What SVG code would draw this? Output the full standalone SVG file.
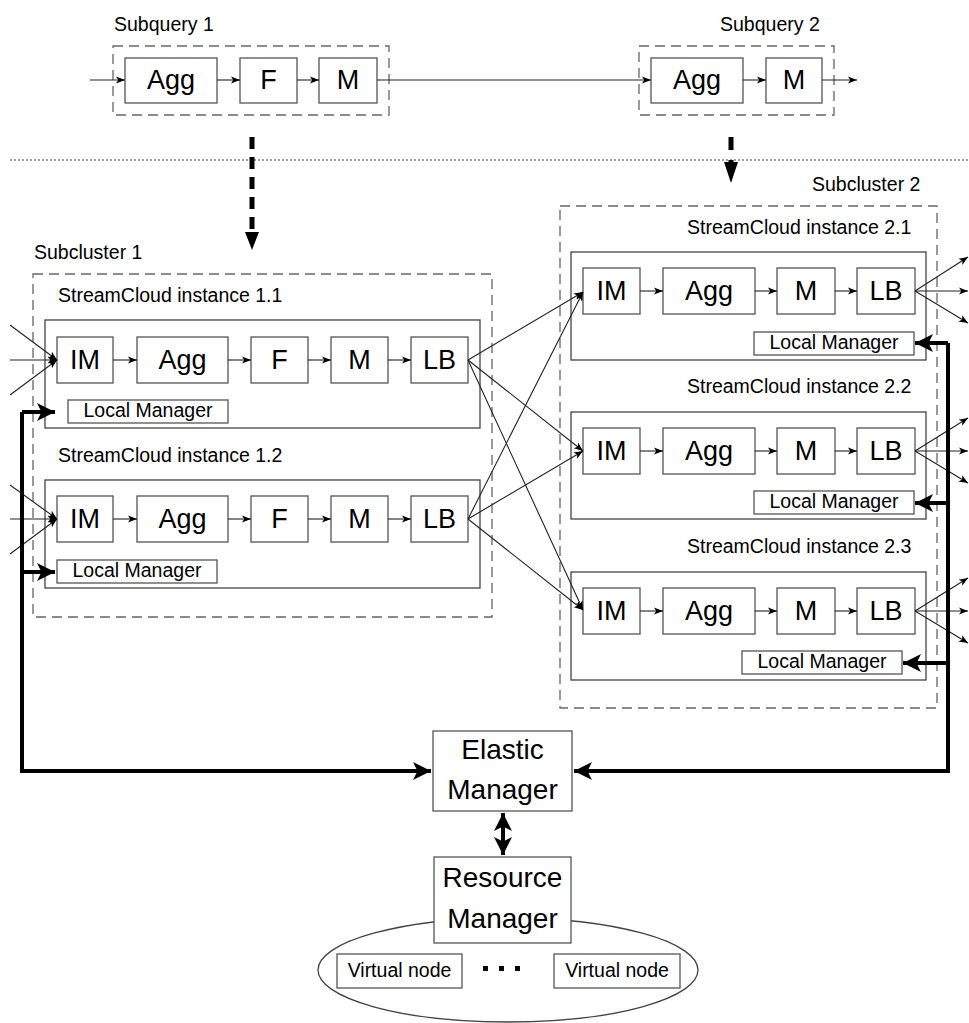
<svg xmlns="http://www.w3.org/2000/svg" width="969" height="1023" viewBox="0 0 969 1023">
<style>
text{font-family:"Liberation Sans",Arial,sans-serif;fill:#000}
.op{font-size:27px;text-anchor:middle}
.lbl{font-size:19.5px}
.lm{font-size:19.5px;text-anchor:middle}
.big{font-size:28px;text-anchor:middle}
.box{fill:#fff;stroke:#555;stroke-width:1.3}
.inst{fill:none;stroke:#444;stroke-width:1.3}
.dash{fill:none;stroke:#666;stroke-width:1.3;stroke-dasharray:10 6}
.thin{fill:none;stroke:#222;stroke-width:1.1;marker-end:url(#ah)}
.thick{fill:none;stroke:#000;stroke-width:4}
</style>
<defs>
<marker id="ah" viewBox="0 0 10 10" refX="10" refY="5" markerWidth="9" markerHeight="9" markerUnits="userSpaceOnUse" orient="auto">
<path d="M0,1 L10,5 L0,9 L2.5,5 Z" fill="#000"/>
</marker>
<marker id="ahb" viewBox="0 0 10 10" refX="10" refY="5" markerWidth="4.5" markerHeight="4.5" orient="auto">
<path d="M0,0 L10,5 L0,10 L2.5,5 Z" fill="#000"/>
</marker>
<marker id="ahbs" viewBox="0 0 10 10" refX="0" refY="5" markerWidth="4.5" markerHeight="4.5" orient="auto">
<path d="M10,0 L0,5 L10,10 L7.5,5 Z" fill="#000"/>
</marker>
</defs>

<!-- Subquery 1 -->
<g id="subquery1">
<text class="lbl" x="114" y="31">Subquery 1</text>
<rect class="dash" x="113" y="46" width="276" height="69"/>
<rect class="box" x="125" y="58" width="92" height="45"/><text class="op" x="171" y="89">Agg</text>
<rect class="box" x="240" y="58" width="57" height="45"/><text class="op" x="268.5" y="89">F</text>
<rect class="box" x="319" y="58" width="58" height="45"/><text class="op" x="348" y="89">M</text>
</g>
<!-- Subquery 2 -->
<g id="subquery2">
<text class="lbl" x="720" y="31">Subquery 2</text>
<rect class="dash" x="639" y="46" width="195" height="69"/>
<rect class="box" x="651" y="58" width="92" height="45"/><text class="op" x="697" y="89">Agg</text>
<rect class="box" x="766" y="58" width="56" height="45"/><text class="op" x="794" y="89">M</text>
</g>

<line x1="10" y1="160" x2="969" y2="160" stroke="#444" stroke-width="1" stroke-dasharray="2 2"/>

<!-- Subcluster 1 -->
<g id="subcluster1">
<text class="lbl" x="34" y="259">Subcluster 1</text>
<rect class="dash" x="33" y="274" width="459" height="343"/>
</g>
<g id="instance11">
<text class="lbl" x="58" y="302">StreamCloud instance 1.1</text>
<rect class="inst" x="45" y="320" width="435" height="108"/>
<rect class="box" x="57" y="337" width="56" height="46"/><text class="op" x="85" y="369">IM</text>
<rect class="box" x="137" y="337" width="91" height="46"/><text class="op" x="182.5" y="369">Agg</text>
<rect class="box" x="251" y="337" width="57" height="46"/><text class="op" x="279.5" y="369">F</text>
<rect class="box" x="331" y="337" width="57" height="46"/><text class="op" x="359.5" y="369">M</text>
<rect class="box" x="411" y="337" width="57" height="46"/><text class="op" x="439.5" y="369">LB</text>
<rect class="box" x="68" y="400" width="160" height="23"/><text class="lm" x="148" y="417">Local Manager</text>
</g>
<g id="instance12">
<text class="lbl" x="58" y="462">StreamCloud instance 1.2</text>
<rect class="inst" x="45" y="480" width="435" height="108"/>
<rect class="box" x="57" y="496" width="56" height="46"/><text class="op" x="85" y="528">IM</text>
<rect class="box" x="137" y="496" width="91" height="46"/><text class="op" x="182.5" y="528">Agg</text>
<rect class="box" x="251" y="496" width="57" height="46"/><text class="op" x="279.5" y="528">F</text>
<rect class="box" x="331" y="496" width="57" height="46"/><text class="op" x="359.5" y="528">M</text>
<rect class="box" x="411" y="496" width="57" height="46"/><text class="op" x="439.5" y="528">LB</text>
<rect class="box" x="57" y="560" width="160" height="23"/><text class="lm" x="137" y="577">Local Manager</text>
</g>

<!-- Subcluster 2 -->
<g id="subcluster2">
<text class="lbl" x="812" y="191">Subcluster 2</text>
<rect class="dash" x="560" y="206" width="377" height="502"/>
</g>
<g id="instance21">
<text class="lbl" x="687" y="234">StreamCloud instance 2.1</text>
<rect class="inst" x="571" y="252" width="355" height="108"/>
<rect class="box" x="583" y="268" width="57" height="46"/><text class="op" x="611.5" y="300">IM</text>
<rect class="box" x="663" y="268" width="92" height="46"/><text class="op" x="709" y="300">Agg</text>
<rect class="box" x="777" y="268" width="58" height="46"/><text class="op" x="806" y="300">M</text>
<rect class="box" x="857" y="268" width="58" height="46"/><text class="op" x="886" y="300">LB</text>
<rect class="box" x="754" y="332" width="160" height="23"/><text class="lm" x="834" y="349">Local Manager</text>
</g>
<g id="instance22">
<text class="lbl" x="687" y="393">StreamCloud instance 2.2</text>
<rect class="inst" x="571" y="412" width="355" height="107"/>
<rect class="box" x="583" y="428" width="57" height="46"/><text class="op" x="611.5" y="460">IM</text>
<rect class="box" x="663" y="428" width="92" height="46"/><text class="op" x="709" y="460">Agg</text>
<rect class="box" x="777" y="428" width="58" height="46"/><text class="op" x="806" y="460">M</text>
<rect class="box" x="857" y="428" width="58" height="46"/><text class="op" x="886" y="460">LB</text>
<rect class="box" x="754" y="491" width="160" height="23"/><text class="lm" x="834" y="508">Local Manager</text>
</g>
<g id="instance23">
<text class="lbl" x="687" y="553">StreamCloud instance 2.3</text>
<rect class="inst" x="571" y="572" width="355" height="108"/>
<rect class="box" x="583" y="588" width="57" height="46"/><text class="op" x="611.5" y="620">IM</text>
<rect class="box" x="663" y="588" width="92" height="46"/><text class="op" x="709" y="620">Agg</text>
<rect class="box" x="777" y="588" width="58" height="46"/><text class="op" x="806" y="620">M</text>
<rect class="box" x="857" y="588" width="58" height="46"/><text class="op" x="886" y="620">LB</text>
<rect class="box" x="742" y="651" width="160" height="23"/><text class="lm" x="822" y="668">Local Manager</text>
</g>

<!-- Managers -->
<g id="resource-pool">
<ellipse cx="508" cy="970" rx="190" ry="52" fill="none" stroke="#444" stroke-width="1.3"/>
<rect class="box" x="337" y="954" width="125" height="34"/><text class="lm" x="399.5" y="977">Virtual node</text>
<rect class="box" x="554" y="954" width="126" height="34"/><text class="lm" x="617" y="977">Virtual node</text>
<rect x="483" y="966" width="5" height="5" fill="#000"/>
<rect x="499" y="966" width="5" height="5" fill="#000"/>
<rect x="515" y="966" width="5" height="5" fill="#000"/>
</g>
<g id="elastic-manager">
<rect class="box" x="433" y="731" width="139" height="80"/>
<text class="big" x="502.5" y="759">Elastic</text>
<text class="big" x="502.5" y="799">Manager</text>
</g>
<g id="resource-manager">
<rect class="box" x="434" y="857" width="137" height="86"/>
<text class="big" x="502.5" y="887">Resource</text>
<text class="big" x="502.5" y="928">Manager</text>
</g>

<!-- Connectors -->
<g id="connectors">
<!-- subquery chain -->
<line class="thin" x1="90" y1="80" x2="125" y2="80"/>
<line class="thin" x1="217" y1="80" x2="240" y2="80"/>
<line class="thin" x1="297" y1="80" x2="319" y2="80"/>
<line class="thin" x1="377" y1="80" x2="651" y2="80"/>
<line class="thin" x1="743" y1="80" x2="766" y2="80"/>
<line class="thin" x1="822" y1="80" x2="857" y2="80"/>
<!-- thick dashed deploy arrows -->
<line x1="252" y1="137" x2="252" y2="232" stroke="#000" stroke-width="5" stroke-dasharray="12 8"/>
<path d="M245,232 L259,232 L252,250 Z" fill="#000"/>
<line x1="731" y1="137" x2="731" y2="150" stroke="#000" stroke-width="5"/>
<path d="M724,162 L738,162 L731,183 Z" fill="#000"/>
<line x1="731" y1="160" x2="731" y2="164" stroke="#000" stroke-width="5"/>
<!-- instance 1.1 internals -->
<line class="thin" x1="10" y1="325" x2="57" y2="360"/>
<line class="thin" x1="10" y1="360" x2="57" y2="360"/>
<line class="thin" x1="10" y1="395" x2="57" y2="360"/>
<line class="thin" x1="113" y1="360" x2="137" y2="360"/>
<line class="thin" x1="228" y1="360" x2="251" y2="360"/>
<line class="thin" x1="308" y1="360" x2="331" y2="360"/>
<line class="thin" x1="388" y1="360" x2="411" y2="360"/>
<!-- instance 1.2 internals -->
<line class="thin" x1="10" y1="485" x2="57" y2="519"/>
<line class="thin" x1="10" y1="519" x2="57" y2="519"/>
<line class="thin" x1="10" y1="554" x2="57" y2="519"/>
<line class="thin" x1="113" y1="519" x2="137" y2="519"/>
<line class="thin" x1="228" y1="519" x2="251" y2="519"/>
<line class="thin" x1="308" y1="519" x2="331" y2="519"/>
<line class="thin" x1="388" y1="519" x2="411" y2="519"/>
<!-- LB to IM cross -->
<line class="thin" x1="468" y1="360" x2="583" y2="292"/>
<line class="thin" x1="468" y1="360" x2="583" y2="451"/>
<line class="thin" x1="468" y1="360" x2="583" y2="610"/>
<line class="thin" x1="468" y1="519" x2="583" y2="292"/>
<line class="thin" x1="468" y1="519" x2="583" y2="451"/>
<line class="thin" x1="468" y1="519" x2="583" y2="610"/>
<!-- instance 2.1 internals -->
<line class="thin" x1="640" y1="291" x2="663" y2="291"/>
<line class="thin" x1="755" y1="291" x2="777" y2="291"/>
<line class="thin" x1="835" y1="291" x2="857" y2="291"/>
<line class="thin" x1="915" y1="291" x2="968" y2="257"/>
<line class="thin" x1="915" y1="291" x2="968" y2="291"/>
<line class="thin" x1="915" y1="291" x2="968" y2="323"/>
<!-- instance 2.2 internals -->
<line class="thin" x1="640" y1="451" x2="663" y2="451"/>
<line class="thin" x1="755" y1="451" x2="777" y2="451"/>
<line class="thin" x1="835" y1="451" x2="857" y2="451"/>
<line class="thin" x1="915" y1="451" x2="968" y2="418"/>
<line class="thin" x1="915" y1="451" x2="968" y2="451"/>
<line class="thin" x1="915" y1="451" x2="968" y2="483"/>
<!-- instance 2.3 internals -->
<line class="thin" x1="640" y1="611" x2="663" y2="611"/>
<line class="thin" x1="755" y1="611" x2="777" y2="611"/>
<line class="thin" x1="835" y1="611" x2="857" y2="611"/>
<line class="thin" x1="915" y1="611" x2="968" y2="578"/>
<line class="thin" x1="915" y1="611" x2="968" y2="611"/>
<line class="thin" x1="915" y1="611" x2="968" y2="643"/>
<!-- thick management lines -->
<path class="thick" d="M22,412 L22,771 L431,771" marker-end="url(#ahb)"/>
<line class="thick" x1="22" y1="412" x2="55" y2="412" marker-end="url(#ahb)"/>
<line class="thick" x1="22" y1="572" x2="55" y2="572" marker-end="url(#ahb)"/>
<path class="thick" d="M948,343 L948,771 L574,771" marker-end="url(#ahb)"/>
<line class="thick" x1="948" y1="343" x2="915" y2="343" marker-end="url(#ahb)"/>
<line class="thick" x1="948" y1="503" x2="915" y2="503" marker-end="url(#ahb)"/>
<line class="thick" x1="948" y1="663" x2="903" y2="663" marker-end="url(#ahb)"/>
<line class="thick" x1="503" y1="813" x2="503" y2="855" marker-start="url(#ahbs)" marker-end="url(#ahb)"/>
</g>
</svg>
